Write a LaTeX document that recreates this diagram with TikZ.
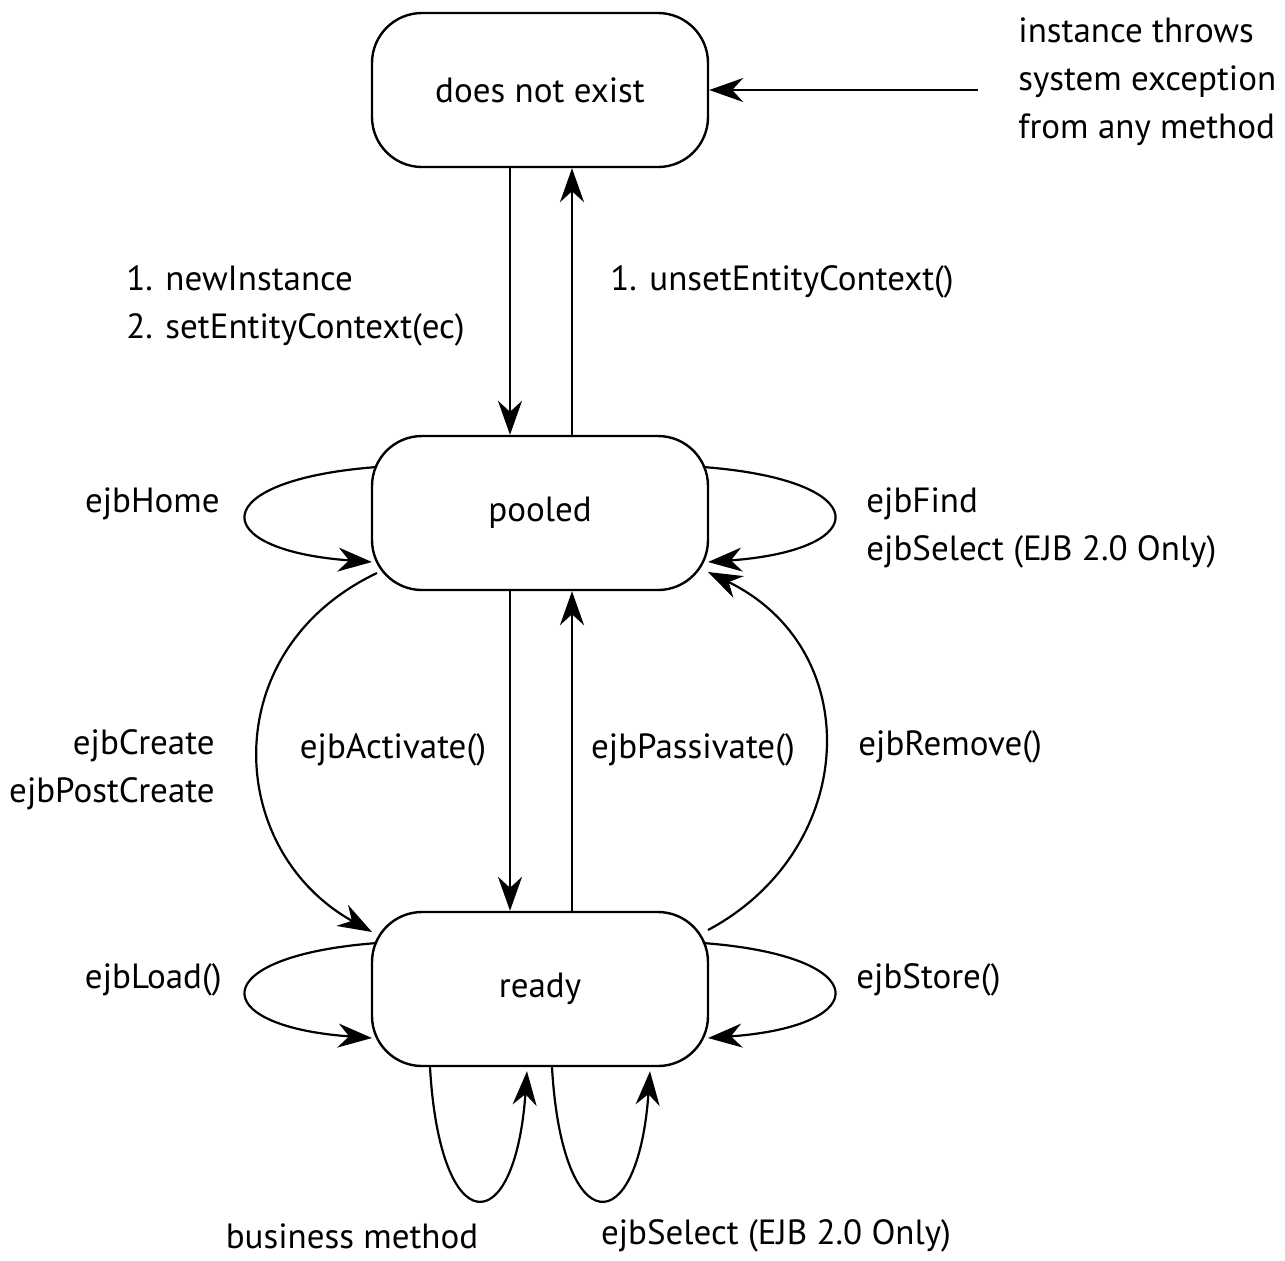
\documentclass[tikz,border=0pt]{standalone}
\usepackage{fontspec}
\setmainfont{PT Sans}
\usetikzlibrary{arrows.meta,calc}
\begin{document}
\begin{tikzpicture}[x=0.5pt,y=-0.5pt,
  state/.style={draw,line width=1.2pt,rounded corners=25pt,minimum width=168pt,minimum height=77pt,inner sep=0pt,font=\fontsize{17.5}{24}\selectfont},
  lbl/.style={inner sep=0pt,font=\fontsize{17.5}{24}\selectfont},
  tr/.style={line width=1.1pt,-{Stealth[length=17pt,width=12pt,inset=5.5pt]}}]
\useasboundingbox (0,0) rectangle (1285,1260);
% states
\node[state] (exist) at (540,90) {\raisebox{-2pt}{does not exist}};
\node[state] (pool) at (540,513) {\raisebox{-2pt}{pooled}};
\node[state] (ready) at (540,989) {\raisebox{-2pt}{ready}};
% exception arrow from the right
\coordinate (exc) at (978,90);
\draw[tr] (exc) -- (exist.east);
\node[lbl,anchor=west,align=left] (exclbl) at (1018,82) {instance throws\\system exception\\from any method};
% creation and destruction
\draw[tr] ([xshift=-15pt]exist.south) -- ([xshift=-15pt]pool.north);
\draw[tr] ([xshift=16pt]pool.north) -- ([xshift=16pt]exist.south);
\node[lbl,anchor=west,align=left] (newlbl) at (126,306) {1. newInstance\\2. setEntityContext(ec)};
\node[lbl,anchor=west] (unsetlbl) at (610,282) {1. unsetEntityContext()};
% activation and passivation
\draw[tr] ([xshift=-15pt]pool.south) -- ([xshift=-15pt]ready.north);
\draw[tr] ([xshift=16pt]ready.north) -- ([xshift=16pt]pool.south);
\node[lbl] (actlbl) at (393,750) {ejbActivate()};
\node[lbl] (paslbl) at (693,750) {ejbPassivate()};
% self loops on pooled
\draw[tr] ($(pool.center)+(-163,-46)$) .. controls ($(pool.center)+(-335,-33)$) and ($(pool.center)+(-335,37)$) .. ($(pool.center)+(-168,49)$);
\draw[tr] ($(pool.center)+(163,-46)$) .. controls ($(pool.center)+(335,-33)$) and ($(pool.center)+(335,37)$) .. ($(pool.center)+(168,49)$);
\node[lbl,anchor=east] (homelbl) at (220,504) {ejbHome};
\node[lbl,anchor=west,align=left] (findlbl) at (866,528) {ejbFind\\ejbSelect (EJB 2.0 Only)};
% create and remove
\draw[tr] ($(pool.center)+(-163,60)$) .. controls ($(pool.center)+(-325,137)$) and ($(pool.center)+(-315,337)$) .. ($(ready.center)+(-168,-57)$);
\draw[tr] ($(ready.center)+(168,-59)$) .. controls ($(ready.center)+(318,-139)$) and ($(ready.center)+(328,-339)$) .. ($(pool.center)+(168,59)$);
\node[lbl,anchor=east,align=right] (createlbl) at (215,770) {ejbCreate\\ejbPostCreate};
\node[lbl,anchor=west] (removelbl) at (858,747) {ejbRemove()};
% self loops on ready
\draw[tr] ($(ready.center)+(-163,-46)$) .. controls ($(ready.center)+(-335,-33)$) and ($(ready.center)+(-335,37)$) .. ($(ready.center)+(-168,49)$);
\draw[tr] ($(ready.center)+(163,-46)$) .. controls ($(ready.center)+(335,-33)$) and ($(ready.center)+(335,37)$) .. ($(ready.center)+(168,49)$);
\node[lbl,anchor=east] (loadlbl) at (222,980) {ejbLoad()};
\node[lbl,anchor=west] (storelbl) at (856,980) {ejbStore()};
% loops below ready
\draw[tr] ($(ready.south)+(-110,0)$) .. controls ($(ready.south)+(-100,175)$) and ($(ready.south)+(-25,175)$) .. ($(ready.south)+(-13,4)$);
\draw[tr] ($(ready.south)+(12,0)$) .. controls ($(ready.south)+(22,175)$) and ($(ready.south)+(98,175)$) .. ($(ready.south)+(110,4)$);
\node[lbl] (buslbl) at (352,1236) {business method};
\node[lbl] (sellbl) at (776,1236) {ejbSelect (EJB 2.0 Only)};
\end{tikzpicture}
\end{document}
